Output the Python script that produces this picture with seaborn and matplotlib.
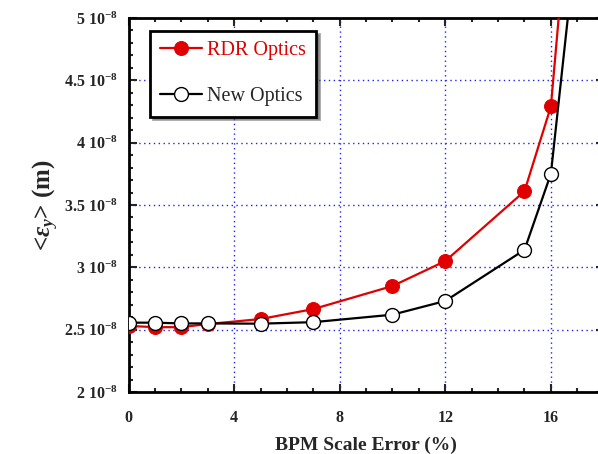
import matplotlib
matplotlib.use("Agg")
import matplotlib.pyplot as plt
import pandas as pd
import seaborn as sns
from matplotlib.ticker import MultipleLocator, FuncFormatter

sns.set_theme(style="ticks")
plt.rcParams["font.family"] = ["Liberation Serif", "DejaVu Serif"]
plt.rcParams["mathtext.fontset"] = "custom"
plt.rcParams["mathtext.rm"] = "Liberation Serif:bold"
plt.rcParams["mathtext.it"] = "Liberation Serif:italic:bold"
plt.rcParams["mathtext.bf"] = "Liberation Serif:bold"

# BPM scale error (%) and vertical emittance (units of 1e-8 m)
scale_error = [0, 1, 2, 3, 5, 7, 10, 12, 15, 16, 17]
rdr_optics = [2.53, 2.52, 2.52, 2.545, 2.585, 2.665, 2.85, 3.05, 3.61, 4.29, 6.7]
new_optics = [2.556, 2.556, 2.55, 2.55, 2.548, 2.56, 2.62, 2.73, 3.14, 3.75, 5.7]

df = pd.DataFrame({
    "err": scale_error * 2,
    "eps": rdr_optics + new_optics,
    "optics": ["RDR Optics"] * len(scale_error) + ["New Optics"] * len(scale_error),
})

fig = plt.figure(figsize=(5.98, 4.54), dpi=100)
ax = fig.add_axes([0.2149, 0.1366, 0.7946, 0.8238])

# grid first so lines sit on top
ax.grid(True, which="major", color="#2222ee", linestyle=(0, (1, 2.5)), linewidth=1.0)
ax.set_axisbelow(True)

sns.lineplot(data=df[df.optics == "RDR Optics"], x="err", y="eps", ax=ax,
             color="#e00000", linewidth=1.6, marker="o", markersize=10,
             markerfacecolor="#e00000", markeredgecolor="#e00000",
             label="RDR Optics", zorder=3)
sns.lineplot(data=df[df.optics == "New Optics"], x="err", y="eps", ax=ax,
             color="black", linewidth=1.6, marker="o", markersize=10,
             markerfacecolor="white", markeredgecolor="black", markeredgewidth=1.0,
             label="New Optics", zorder=4)

ax.set_xlim(0, 18)
ax.set_ylim(2, 5)
ax.xaxis.set_major_locator(MultipleLocator(4))
ax.xaxis.set_minor_locator(MultipleLocator(1))
ax.yaxis.set_major_locator(MultipleLocator(0.5))
ax.yaxis.set_minor_locator(MultipleLocator(0.1))
ax.yaxis.set_major_formatter(FuncFormatter(lambda v, p: f"{v:g} 10$^{{-8}}$"))

ax.tick_params(which="both", direction="in", top=True, right=True, width=1.5)
ax.tick_params(which="major", length=6, labelsize=11.5)
ax.tick_params(axis="x", which="major", pad=13)
ax.tick_params(axis="y", which="major", pad=8)
ax.tick_params(which="minor", length=3)
for lab in ax.get_xticklabels() + ax.get_yticklabels():
    lab.set_fontweight("bold")
for s in ax.spines.values():
    s.set_linewidth(2)
    s.set_color("black")

ax.set_xlabel("BPM Scale Error (%)", fontsize=14, fontweight="bold", labelpad=8)
ax.set_ylabel(r"<$\varepsilon_y$> (m)", fontsize=18, fontweight="bold", labelpad=2)

leg = ax.legend(loc="upper left", bbox_to_anchor=(150 / 598, 1 - 31 / 454),
                bbox_transform=fig.transFigure, fontsize=14.5, frameon=True,
                fancybox=False, shadow=True, borderpad=0.5, labelspacing=1.35,
                handlelength=2.1, handletextpad=0.25, borderaxespad=0)
leg.get_frame().set_edgecolor("black")
leg.get_frame().set_linewidth(2)
leg.get_texts()[0].set_color("#e00000")

fig.savefig("out.png", dpi=100)
